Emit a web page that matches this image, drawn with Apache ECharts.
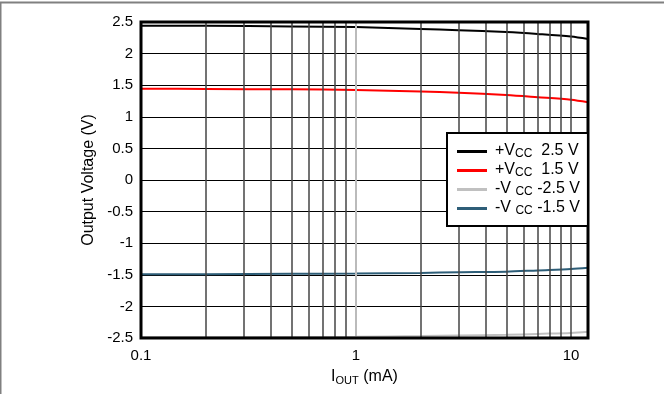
<!DOCTYPE html>
<html>
<head>
<meta charset="utf-8">
<script src="https://cdn.jsdelivr.net/npm/echarts@6/dist/echarts.min.js"></script>
<style>html,body{margin:0;padding:0;background:#fff;}#c{width:664px;height:394px;}</style>
</head>
<body>
<div id="c"></div>
<script>
const iout = [0.1, 0.2, 0.5, 1, 2, 3, 5, 7, 10, 12];
const vPos25 = [2.44, 2.44, 2.43, 2.42, 2.39, 2.37, 2.34, 2.31, 2.27, 2.23];
const vPos15 = [1.445, 1.44, 1.435, 1.425, 1.40, 1.38, 1.345, 1.31, 1.27, 1.23];
const vNeg25 = [-2.49, -2.49, -2.485, -2.48, -2.47, -2.46, -2.45, -2.435, -2.42, -2.40];
const vNeg15 = [-1.49, -1.49, -1.485, -1.48, -1.47, -1.46, -1.45, -1.43, -1.41, -1.39];
const seriesNames = ['p25', 'p15', 'n25', 'n15'];
const legendLabels = {
  p25: '+V{s|CC}  2.5 V',
  p15: '+V{s|CC}  1.5 V',
  n25: '-V {s|CC} -2.5 V',
  n15: '-V {s|CC} -1.5 V'
};
const minorGridX = [0.2, 0.3, 0.4, 0.5, 0.6, 0.7, 0.8, 0.9, 2, 3, 4, 5, 6, 7, 8, 9, 10];
const yTicks = { min: -2.5, max: 2.5, interval: 0.5 };
const xRange = { min: 0.1, max: 12 };

const FONT = 'Liberation Sans, Arial, sans-serif';
const pair = (xs, ys) => xs.map((x, i) => [x, ys[i]]);

const chart = echarts.init(document.getElementById('c'), null, { renderer: 'canvas' });
const lineSeries = (name, data, color) => ({
  name, type: 'line', data, symbol: 'none', smooth: 0.3, z: 3,
  lineStyle: { color, width: 2 }, itemStyle: { color }
});

chart.setOption({
  animation: false,
  backgroundColor: '#fff',
  textStyle: { fontFamily: FONT },
  graphic: [{
    type: 'rect', z: 0, silent: true,
    shape: { x: 0.5, y: 2.5, width: 700, height: 500 },
    style: { fill: 'none', stroke: '#808080', lineWidth: 2 }
  }],
  grid: { left: 141, right: 76, top: 22, bottom: 56, show: true, borderColor: '#000', borderWidth: 3, backgroundColor: 'transparent', z: 10 },
  xAxis: {
    type: 'log', logBase: 10, min: xRange.min, max: xRange.max,
    axisLine: { show: false }, axisTick: { show: false },
    splitLine: { show: false },
    axisLabel: { fontSize: 15, color: '#000', fontFamily: FONT, margin: 10, showMaxLabel: false,
      formatter: v => String(+v.toPrecision(3)) },
    name: '{n|I}{s|OUT}{n| (mA)}', nameLocation: 'middle', nameGap: 30,
    nameTextStyle: { fontSize: 15, color: '#000', fontFamily: FONT,
      rich: { n: { fontSize: 16, lineHeight: 18, verticalAlign: 'middle', fontFamily: FONT, color: '#000' },
              s: { fontSize: 11, lineHeight: 10, verticalAlign: 'bottom', fontFamily: FONT, color: '#000' } } }
  },
  yAxis: {
    type: 'value', min: yTicks.min, max: yTicks.max, interval: yTicks.interval,
    axisLine: { show: false }, axisTick: { show: false },
    splitLine: { show: true, lineStyle: { color: '#000', width: 1 } },
    axisLabel: { fontSize: 15, color: '#000', fontFamily: FONT, margin: 8 },
    name: 'Output Voltage (V)', nameLocation: 'middle', nameGap: 44,
    nameTextStyle: { fontSize: 16, color: '#000', fontFamily: FONT }
  },
  legend: {
    data: seriesNames, orient: 'vertical', left: 447, top: 133,
    padding: [9, 8, 9, 10], itemGap: 1, itemWidth: 33, itemHeight: 14,
    borderColor: '#000', borderWidth: 2, backgroundColor: '#fff', borderRadius: 0,
    icon: 'path://M0,0 M0,6 L30,6 L30,9 L0,9 Z M33,14',
    selectedMode: false, z: 20,
    formatter: n => legendLabels[n],
    textStyle: { fontSize: 16, color: '#000', fontFamily: FONT, lineHeight: 18, verticalAlign: 'middle',
      rich: { s: { fontSize: 12, lineHeight: 10, verticalAlign: 'bottom', fontFamily: FONT, color: '#000' } } }
  },
  series: [
    {
      type: 'line', data: [], silent: true, z: 1,
      markLine: {
        silent: true, symbol: 'none', label: { show: false }, animation: false,
        lineStyle: { color: '#444', width: 1.5, type: 'solid' },
        data: minorGridX.map(x => ({ xAxis: x }))
      }
    },
    {
      type: 'line', data: [], silent: true, z: 1,
      markLine: {
        silent: true, symbol: 'none', label: { show: false }, animation: false,
        lineStyle: { color: '#bbb', width: 2, type: 'solid' },
        data: [{ xAxis: 1 }]
      }
    },
    lineSeries('p25', pair(iout, vPos25), '#000000'),
    lineSeries('p15', pair(iout, vPos15), '#ff0000'),
    lineSeries('n25', pair(iout, vNeg25), '#c0c0c0'),
    lineSeries('n15', pair(iout, vNeg15), '#2e5e78')
  ]
});
</script>
</body>
</html>
